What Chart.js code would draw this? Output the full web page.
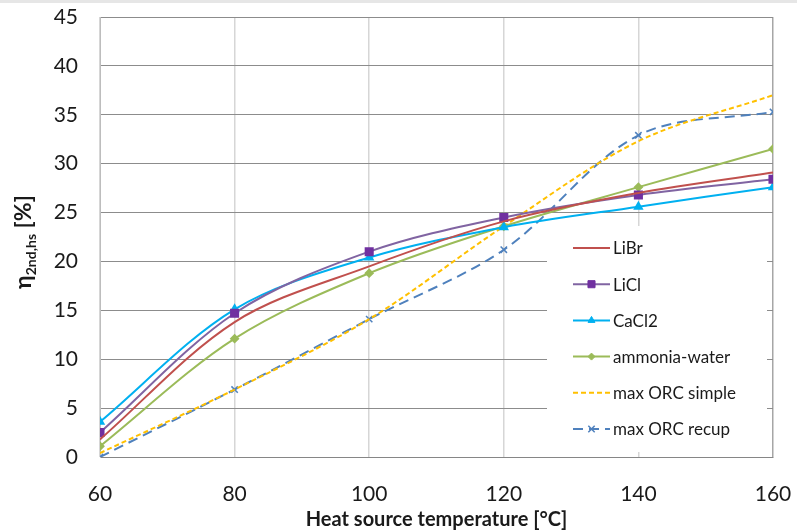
<!DOCTYPE html>
<html>
<head>
<meta charset="utf-8">
<script src="https://cdn.jsdelivr.net/npm/chart.js@4"></script>
<style>
  html, body { margin: 0; padding: 0; background: #fff; }
  #wrap { width: 797px; height: 532px; position: relative; }
</style>
</head>
<body>
<div id="wrap"><canvas id="chart"></canvas></div>
<script>
const temps = [60, 80, 100, 120, 140, 160];
const libr = [1.8, 13.8, 19.5, 24.1, 27.0, 29.1];
const licl = [2.5, 14.7, 21.0, 24.5, 26.8, 28.4];
const cacl2 = [3.6, 15.1, 20.4, 23.5, 25.6, 27.6];
const ammonia = [1.1, 12.1, 18.8, 23.6, 27.6, 31.5];
const orcSimple = [0.4, 6.9, 14.1, 23.6, 32.3, 37.0];
const orcRecup = [0.0, 6.9, 14.1, 21.2, 32.9, 35.3];

const xTicks = [60, 80, 100, 120, 140, 160];
const yTicks = [0, 5, 10, 15, 20, 25, 30, 35, 40, 45];

const FONT = "Lato, 'Open Sans', sans-serif";
const TEXT = '#1a1a1a';

function pts(ys) {
  return temps.map((t, i) => ({ x: t, y: ys[i] }));
}

function series(label, ys, color, extra) {
  return Object.assign({
    label: label,
    data: pts(ys),
    borderColor: color,
    backgroundColor: color,
    borderWidth: 2,
    pointRadius: 0,
    tension: 0.33,
    fill: false
  }, extra || {});
}

// white legend box inside the plot, drawn over the grid but under the lines
const legendBox = {
  id: 'legendBox',
  beforeDatasetsDraw: chart => {
    const ctx = chart.ctx;
    ctx.save();
    ctx.fillStyle = '#ffffff';
    ctx.fillRect(547, 226, 220, 226);
    ctx.restore();
  },
  afterDatasetsDraw: chart => {
    const ctx = chart.ctx;
    ctx.save();
    chart.data.datasets.forEach((ds, i) => {
      const y = 248 + i * 36.2;
      ctx.beginPath();
      ctx.setLineDash(ds.borderDash || []);
      ctx.lineWidth = 2;
      ctx.strokeStyle = ds.borderColor;
      ctx.moveTo(573, y);
      ctx.lineTo(610, y);
      ctx.stroke();
      ctx.setLineDash([]);
      if (ds.pointStyle && ds.pointRadius > 0) {
        ctx.fillStyle = ds.pointBackgroundColor;
        ctx.strokeStyle = ds.pointBorderColor;
        ctx.lineWidth = ds.pointBorderWidth || 1;
        Chart.helpers.drawPoint(ctx, {
          pointStyle: ds.pointStyle,
          radius: ds.pointRadius,
          borderWidth: ds.pointBorderWidth || 1
        }, 591.5, y);
      }
      ctx.fillStyle = TEXT;
      ctx.font = '17px ' + FONT;
      ctx.textBaseline = 'middle';
      ctx.textAlign = 'left';
      ctx.fillText(ds.label, 613, y + 1);
    });
    ctx.restore();
  }
};

// top strip and rotated y title with subscript
const decor = {
  id: 'decor',
  beforeDraw: chart => {
    const ctx = chart.ctx;
    ctx.save();
    ctx.fillStyle = '#e6e6e6';
    ctx.fillRect(0, 0, chart.width, 3);
    ctx.restore();
  },
  afterDraw: chart => {
    const ctx = chart.ctx;
    ctx.save();
    ctx.translate(31, 242);
    ctx.rotate(-Math.PI / 2);
    ctx.fillStyle = TEXT;
    ctx.textBaseline = 'alphabetic';
    const big = 'bold 23px ' + FONT;
    const small = 'bold 14px ' + FONT;
    ctx.font = big;
    const w1 = ctx.measureText('η').width;
    const w3 = ctx.measureText(' [%]').width;
    ctx.font = small;
    const w2 = ctx.measureText('2nd,hs').width;
    let x = -(w1 + w2 + w3) / 2;
    ctx.font = big;
    ctx.fillText('η', x, 0);
    x += w1;
    ctx.font = small;
    ctx.fillText('2nd,hs', x, 5);
    x += w2;
    ctx.font = big;
    ctx.fillText(' [%]', x, 0);
    ctx.restore();
  }
};

new Chart(document.getElementById('chart'), {
  type: 'line',
  data: {
    datasets: [
      series('LiBr', libr, '#c0504d'),
      series('LiCl', licl, '#8064a2', {
        pointStyle: 'rect', pointRadius: 5,
        pointBackgroundColor: '#7030a0', pointBorderColor: '#7030a0'
      }),
      series('CaCl2', cacl2, '#00b0f0', {
        pointStyle: 'triangle', pointRadius: 4,
        pointBackgroundColor: '#00b0f0', pointBorderColor: '#00b0f0'
      }),
      series('ammonia-water', ammonia, '#9bbb59', {
        pointStyle: 'rectRot', pointRadius: 3.5,
        pointBackgroundColor: '#9bbb59', pointBorderColor: '#9bbb59'
      }),
      series('max ORC simple', orcSimple, '#ffc000', {
        borderDash: [5, 3]
      }),
      series('max ORC recup', orcRecup, '#4f81bd', {
        borderDash: [10, 6],
        pointStyle: 'crossRot', pointRadius: 4.5, pointBorderWidth: 1.5,
        pointBackgroundColor: '#4f81bd', pointBorderColor: '#4f81bd'
      })
    ]
  },
  options: {
    responsive: true,
    maintainAspectRatio: false,
    animation: false,
    layout: { padding: { top: 17, right: 24, left: 0, bottom: 0 } },
    scales: {
      x: {
        type: 'linear',
        min: 60,
        max: 160,
        afterBuildTicks: s => { s.ticks = xTicks.map(v => ({ value: v })); },
        afterFit: s => {
          s.height = 75;
          s.paddingLeft = 0;
          s.paddingRight = 0;
        },
        ticks: {
          color: TEXT,
          padding: 25,
          font: { size: 21, family: FONT }
        },
        grid: {
          color: ctx => ctx.tick && ctx.tick.value === 160 ? '#a6a6a6' : '#d6d6d6',
          lineWidth: 1.5,
          drawTicks: false
        },
        border: { display: true, color: '#868686', width: 1 },
        title: {
          display: true,
          text: 'Heat source temperature [°C]',
          color: TEXT,
          padding: { top: 2, bottom: 0 },
          font: { size: 20, weight: 'bold', family: FONT }
        }
      },
      y: {
        min: 0,
        max: 45,
        afterBuildTicks: s => { s.ticks = yTicks.map(v => ({ value: v })); },
        afterFit: s => {
          s.width = 100;
          s.paddingTop = 0;
          s.paddingBottom = 0;
        },
        ticks: {
          color: TEXT,
          padding: 22,
          font: { size: 21, family: FONT }
        },
        grid: { color: '#8c8c8c', lineWidth: 1, drawTicks: false },
        border: { display: true, color: '#bdbdbd', width: 1 }
      }
    },
    plugins: {
      legend: { display: false },
      tooltip: { enabled: false }
    }
  },
  plugins: [decor, legendBox]
});
</script>
</body>
</html>
